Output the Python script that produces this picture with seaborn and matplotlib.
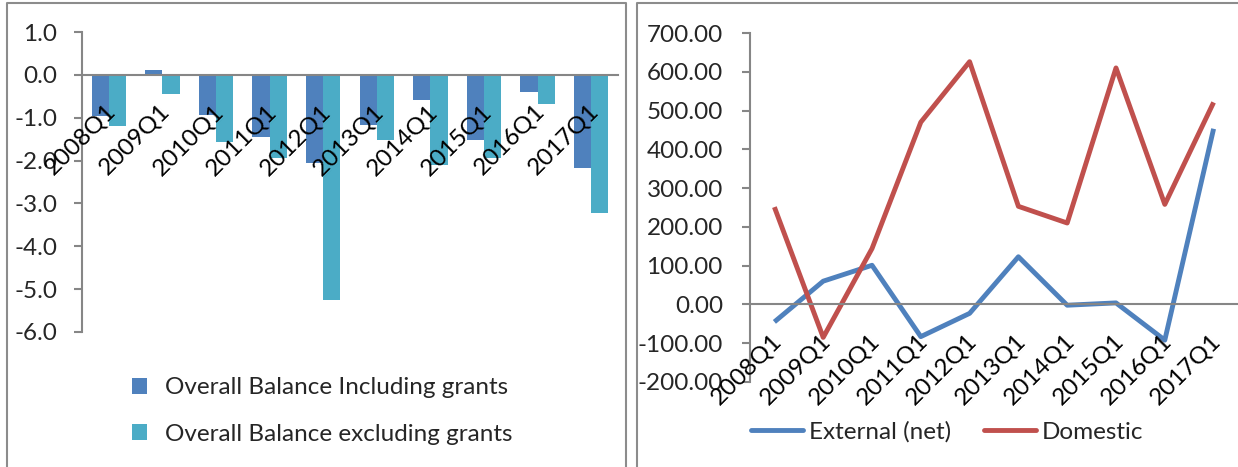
import matplotlib
matplotlib.use("Agg")
import matplotlib.pyplot as plt
import seaborn as sns
import pandas as pd
from matplotlib.lines import Line2D
from matplotlib.patches import Patch

# ---------------- data ----------------
quarters = ["2008Q1", "2009Q1", "2010Q1", "2011Q1", "2012Q1",
            "2013Q1", "2014Q1", "2015Q1", "2016Q1", "2017Q1"]
incl_grants = [-0.97, 0.11, -0.93, -1.45, -2.05, -1.16, -0.58, -1.53, -0.40, -2.18]
excl_grants = [-1.20, -0.44, -1.57, -1.94, -5.26, -1.51, -2.11, -1.93, -0.68, -3.22]
bar_labels = ["Overall Balance Including grants", "Overall Balance excluding grants"]

external = [-45, 60, 101, -83, -23, 123, -2, 4, -92, 453]
domestic = [251, -85, 144, 470, 626, 253, 210, 610, 258, 521]
line_labels = ["External (net)", "Domestic"]

left_yticks = [1.0, 0.0, -1.0, -2.0, -3.0, -4.0, -5.0, -6.0]
right_yticks = [700, 600, 500, 400, 300, 200, 100, 0, -100, -200]

# ---------------- style ----------------
sns.set_theme(style="white")
plt.rcParams["font.family"] = ["Lato", "DejaVu Sans"]
plt.rcParams["axes.unicode_minus"] = False

C_BLUE = "#4F81BD"
C_CYAN = "#4BACC6"
C_RED = "#C0504D"
C_AXIS = "#868686"
C_BORDER = "#8C8C8C"
FS = 17.5

W, H = 1238, 467
fig = plt.figure(figsize=(W / 100, H / 100), dpi=100)
fig.patch.set_facecolor("white")


def px_axes(x0, x1, ytop, ybot):
    return fig.add_axes([x0 / W, 1 - ybot / H, (x1 - x0) / W, (ybot - ytop) / H])


def style_axes(ax, ypad):
    for s in ["top", "right"]:
        ax.spines[s].set_visible(False)
    ax.spines["left"].set_color(C_AXIS)
    ax.spines["left"].set_linewidth(1.5)
    ax.spines["bottom"].set_color(C_AXIS)
    ax.spines["bottom"].set_linewidth(1.5)
    ax.spines["bottom"].set_position(("data", 0))
    ax.set_xlim(-0.5, 9.5)
    ax.set_xticks(range(10))
    ax.set_xticks([i - 0.5 for i in range(11)], minor=True)
    ax.tick_params(axis="x", which="major", length=0, pad=0)
    ax.tick_params(axis="x", which="minor", length=5.5, width=1.5, color=C_AXIS, direction="out")
    ax.tick_params(axis="y", which="major", length=5.5, width=1.5, color=C_AXIS,
                   direction="out", labelsize=FS, pad=ypad, left=True)
    ax.set_xlabel("")
    ax.set_ylabel("")
    ax.grid(False)


def rot_labels(ax, offset):
    ax.set_xticklabels([])
    for i, q in enumerate(quarters):
        ax.annotate(q, xy=(i, 0), xycoords=("data", "data"),
                    xytext=(offset[0], offset[1]), textcoords="offset pixels",
                    rotation=45, ha="right", va="center", rotation_mode="anchor",
                    fontsize=FS, color="black", annotation_clip=False)


# ---------------- left chart: bars ----------------
ax1 = px_axes(82, 618, 32, 332)
df_bar = pd.DataFrame({
    "quarter": quarters * 2,
    "value": incl_grants + excl_grants,
    "series": [bar_labels[0]] * 10 + [bar_labels[1]] * 10,
})
sns.barplot(data=df_bar, x="quarter", y="value", hue="series",
            palette=[C_BLUE, C_CYAN], width=0.64, ax=ax1, legend=False,
            saturation=1, linewidth=0)
style_axes(ax1, 12.5)
ax1.set_ylim(-6, 1)
ax1.set_yticks(left_yticks)
ax1.set_yticklabels([f"{v:.1f}" for v in left_yticks])
rot_labels(ax1, (4, -33))

bar_handles = [Patch(facecolor=C_BLUE, edgecolor="none"),
               Patch(facecolor=C_CYAN, edgecolor="none")]
fig.legend(bar_handles, bar_labels, loc="center left",
           bbox_to_anchor=(110 / W, 1 - 411 / H), frameon=False,
           fontsize=FS, handlelength=0.62, handleheight=0.62,
           handletextpad=0.74, labelspacing=1.03)

# ---------------- right chart: lines ----------------
ax2 = px_axes(750, 1238, 33, 382)
df_line = pd.DataFrame({
    "quarter": quarters * 2,
    "value": external + domestic,
    "series": [line_labels[0]] * 10 + [line_labels[1]] * 10,
})
sns.lineplot(data=df_line, x="quarter", y="value", hue="series",
             palette=[C_BLUE, C_RED], linewidth=3.5, ax=ax2, legend=False, sort=False)
style_axes(ax2, 14)
ax2.set_ylim(-200, 700)
ax2.set_yticks(right_yticks)
ax2.set_yticklabels([f"{v:.2f}" for v in right_yticks])
rot_labels(ax2, (4, -33))
for ln in ax2.lines:
    ln.set_clip_on(False)
    ln.set_solid_capstyle("butt")

line_handles = [Line2D([], [], color=C_BLUE, linewidth=3.5),
                Line2D([], [], color=C_RED, linewidth=3.5)]
fig.legend(line_handles, line_labels, loc="center left",
           bbox_to_anchor=(729 / W, 1 - 432 / H), frameon=False, ncol=2,
           fontsize=FS, handlelength=2.14, handletextpad=0.25, columnspacing=1.36)

# ---------------- chart area borders ----------------
for (xs, ys) in [([7, 7, 626, 626], [H, 3, 3, H]),
                 ([637, 637, W], [H, 3, 3])]:
    fig.add_artist(Line2D([x / W for x in xs], [1 - y / H for y in ys],
                          transform=fig.transFigure, color=C_BORDER, linewidth=1.5))

fig.savefig("out.png", dpi=100)
